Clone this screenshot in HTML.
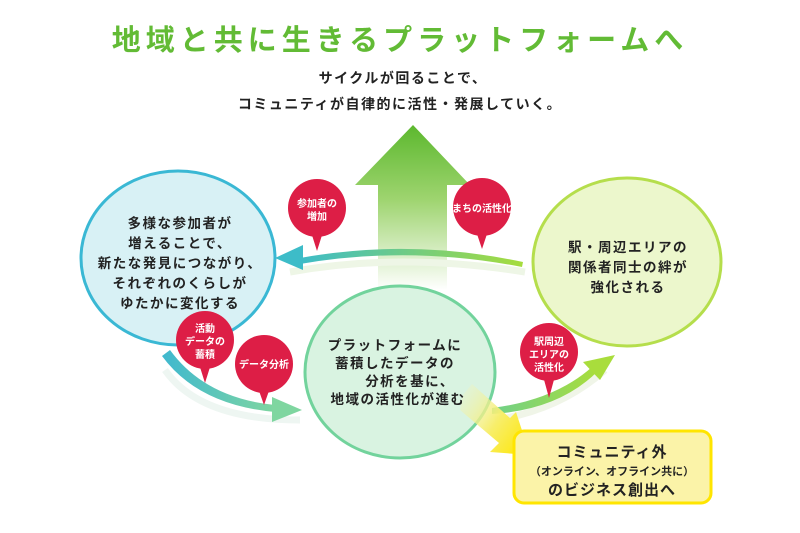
<!DOCTYPE html>
<html><head><meta charset="utf-8"><style>
html,body{margin:0;padding:0;background:#fff;}
svg{display:block}
text{font-family:"Liberation Sans","Noto Sans CJK JP",sans-serif;font-weight:bold;}
</style></head><body>
<svg width="800" height="533" viewBox="0 0 800 533" xmlns="http://www.w3.org/2000/svg">
<defs>
<linearGradient id="up" x1="0" y1="0" x2="0" y2="1">
<stop offset="0" stop-color="#5cb82e"/><stop offset="0.45" stop-color="#9ed46f"/><stop offset="1" stop-color="#ffffff"/></linearGradient>
<linearGradient id="topArc" x1="0" y1="0" x2="1" y2="0">
<stop offset="0" stop-color="#3dbcc8"/><stop offset="1" stop-color="#a6dc3c"/></linearGradient>
<linearGradient id="blArc" x1="0" y1="0" x2="1" y2="0">
<stop offset="0" stop-color="#3fb8cf"/><stop offset="1" stop-color="#7fd6a0"/></linearGradient>
<linearGradient id="brArc" x1="0" y1="0" x2="1" y2="0">
<stop offset="0" stop-color="#6fd08a"/><stop offset="1" stop-color="#a9dd3c"/></linearGradient>
<linearGradient id="yel" x1="460" y1="400" x2="530" y2="450" gradientUnits="userSpaceOnUse">
<stop offset="0" stop-color="#eef3c0" stop-opacity="0.4"/><stop offset="0.5" stop-color="#f7ee6a"/><stop offset="1" stop-color="#ffe600"/></linearGradient>
</defs>

<text x="400" y="50" text-anchor="middle" font-size="29" fill="#62bb35" letter-spacing="5">地域と共に生きるプラットフォームへ</text>
<text x="403" y="83" text-anchor="middle" font-size="14" fill="#222" letter-spacing="1.5">サイクルが回ることで、</text>
<text x="400" y="109" text-anchor="middle" font-size="14" fill="#222" letter-spacing="1.5">コミュニティが自律的に活性・発展していく。</text>

<path d="M413,125 L470,185 L447,185 L447,290 L378,290 L378,185 L355,185 Z" fill="url(#up)"/>

<path d="M290,272 Q400,252 525,272" stroke="#eef6e6" stroke-width="7" fill="none"/>
<path d="M300,258 Q410,238 523,262 L522,267 Q410,245 300,264 Z" fill="url(#topArc)"/>
<path d="M275,258 L303,245 L303,270 Z" fill="#3dbcc8"/>

<path d="M165,370 Q200,420 300,420" stroke="#eef6f2" stroke-width="7" fill="none"/>
<path d="M170,350 Q205,398 275,405 L275,412 Q198,405 162,356 Z" fill="url(#blArc)"/>
<path d="M302,410 L272,397 L272,422 Z" fill="#7fd6a0"/>

<path d="M495,420 Q560,410 605,370" stroke="#f0f5e8" stroke-width="7" fill="none"/>
<path d="M492,408 Q555,400 592,367 L597,372 Q558,410 492,414 Z" fill="url(#brArc)"/>
<path d="M615,355 L583,362 L600,380 Z" fill="#a9dd3c"/>

<ellipse cx="178" cy="258" rx="97" ry="87" fill="#d8f1f5" stroke="#3ab8d4" stroke-width="3"/>
<ellipse cx="627" cy="262" rx="94" ry="84" fill="#ecf7cc" stroke="#b5de4c" stroke-width="3"/>
<ellipse cx="400" cy="372" rx="95" ry="86" fill="#d9f3e1" stroke="#72d39c" stroke-width="3"/>

<path d="M462,396 L472,384 L510,418 L516,412 L530,455 L490,452 L499,443 L460,410 Z" fill="url(#yel)"/>

<rect x="514" y="431" width="197" height="72" rx="10" fill="#fbf3a8" stroke="#ffe500" stroke-width="3"/>
<text x="612" y="457" text-anchor="middle" font-size="15" fill="#222" letter-spacing="1">コミュニティ外</text>
<text x="612" y="475" text-anchor="middle" font-size="11" fill="#222" font-weight="normal">（オンライン、オフライン共に）</text>
<text x="612" y="495" text-anchor="middle" font-size="15" fill="#222" letter-spacing="1">のビジネス創出へ</text>

<g font-size="13.5" fill="#222" text-anchor="middle" letter-spacing="1.5">
<text x="180" y="228">多様な参加者が</text>
<text x="180" y="248">増えることで、</text>
<text x="180" y="268">新たな発見につながり、</text>
<text x="180" y="288">それぞれのくらしが</text>
<text x="180" y="308">ゆたかに変化する</text>
<text x="628" y="252">駅・周辺エリアの</text>
<text x="628" y="272">関係者同士の絆が</text>
<text x="628" y="292">強化される</text>
<text x="395" y="350">プラットフォームに</text>
<text x="395" y="368">蓄積したデータの</text>
<text x="410" y="386">分析を基に、</text>
<text x="398" y="404">地域の活性化が進む</text>
</g>

<g fill="#dd1e46">
<circle cx="317" cy="208" r="29"/><path d="M311,232 L317,251 L323,232 Z"/>
<circle cx="482" cy="207" r="29"/><path d="M476,231 L482,249 L488,231 Z"/>
<circle cx="205" cy="340" r="29"/><path d="M199,364 L205,383 L211,364 Z"/>
<circle cx="264" cy="364" r="29"/><path d="M258,388 L264,405 L270,388 Z"/>
<circle cx="549" cy="352" r="29"/><path d="M543,376 L549,398 L555,376 Z"/>
</g>
<g font-size="10" fill="#fff" text-anchor="middle">
<text x="317" y="207">参加者の</text><text x="317" y="220">増加</text>
<text x="482" y="212">まちの活性化</text>
<text x="205" y="332">活動</text><text x="205" y="345">データの</text><text x="205" y="358">蓄積</text>
<text x="264" y="368">データ分析</text>
<text x="549" y="345">駅周辺</text><text x="549" y="358">エリアの</text><text x="549" y="371">活性化</text>
</g>
</svg>
</body></html>
